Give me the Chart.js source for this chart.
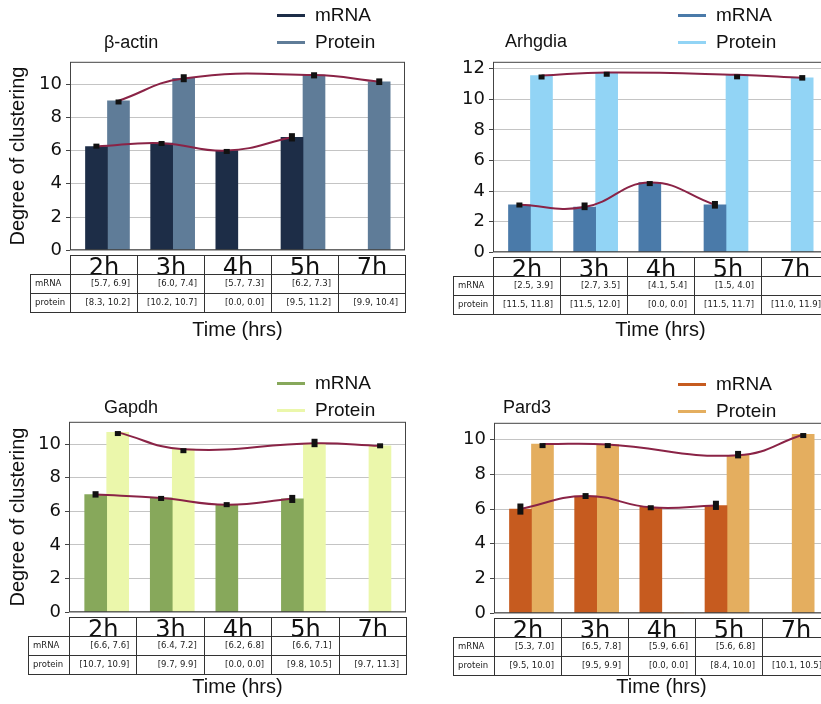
<!DOCTYPE html>
<html>
<head>
<meta charset="utf-8">
<script src="https://cdn.jsdelivr.net/npm/chart.js@4"></script>
<style>
  html, body { margin: 0; padding: 0; background: #fff; }
  body { width: 821px; height: 704px; position: relative; overflow: hidden; font-family: "Liberation Sans", Arial, sans-serif; color: #111; }
  .abs { position: absolute; }
  .title { font-size: 18px; white-space: nowrap; }
  .leg { font-size: 19px; white-space: nowrap; }
  .legline { position: absolute; height: 3px; width: 28px; }
  .xlabel { font-size: 20px; white-space: nowrap; transform: translateX(-50%); }
  .cell { position: absolute; box-sizing: border-box; border: 1px solid #333; overflow: hidden; font-family: "DejaVu Sans", sans-serif; }
  .head { font-size: 24px; line-height: 24px; text-align: center; }
  .body { font-size: 8.5px; line-height: 17px; text-align: right; padding-right: 7px; color: #222; }
  .rowlab { font-size: 8.5px; line-height: 17px; text-align: left; padding-left: 4px; color: #222; }
</style>
</head>
<body>
<script>
const categories = ['2h', '3h', '4h', '5h', '7h'];
const yTicks = [0, 2, 4, 6, 8, 10, 12];

// β-actin
const actinMrna = [6.25, 6.45, 6.0, 6.8, null];
const actinProtein = [9.0, 10.35, 0, 10.55, 10.15];
const actinMrnaErr = [[6.12, 6.42], [6.32, 6.58], [5.9, 6.1], [6.55, 7.05], null];
const actinProteinErr = [[8.88, 9.08], [10.12, 10.6], null, [10.35, 10.72], [9.95, 10.35]];
const actinMrnaCI = ['[5.7, 6.9]', '[6.0, 7.4]', '[5.7, 7.3]', '[6.2, 7.3]', ''];
const actinProteinCI = ['[8.3, 10.2]', '[10.2, 10.7]', '[0.0, 0.0]', '[9.5, 11.2]', '[9.9, 10.4]'];

// Arhgdia
const arhMrna = [3.1, 2.95, 4.55, 3.1, null];
const arhProtein = [11.55, 11.75, 0, 11.6, 11.4];
const arhMrnaErr = [[2.98, 3.25], [2.75, 3.25], [4.38, 4.65], [2.85, 3.35], null];
const arhProteinErr = [[11.48, 11.62], [11.68, 11.8], null, [11.57, 11.63], [11.22, 11.58]];
const arhMrnaCI = ['[2.5, 3.9]', '[2.7, 3.5]', '[4.1, 5.4]', '[1.5, 4.0]', ''];
const arhProteinCI = ['[11.5, 11.8]', '[11.5, 12.0]', '[0.0, 0.0]', '[11.5, 11.7]', '[11.0, 11.9]'];

// Gapdh
const gapMrna = [7.0, 6.8, 6.4, 6.75, null];
const gapProtein = [10.7, 9.7, 0, 10.05, 9.9];
const gapMrnaErr = [[6.82, 7.2], [6.62, 6.92], [6.25, 6.55], [6.5, 6.98], null];
const gapProteinErr = [[10.65, 10.78], [9.64, 9.76], null, [9.82, 10.32], [9.78, 10.05]];
const gapMrnaCI = ['[6.6, 7.6]', '[6.4, 7.2]', '[6.2, 6.8]', '[6.6, 7.1]', ''];
const gapProteinCI = ['[10.7, 10.9]', '[9.7, 9.9]', '[0.0, 0.0]', '[9.8, 10.5]', '[9.7, 11.3]'];

// Pard3
const pardMrna = [6.0, 6.75, 6.1, 6.2, null];
const pardProtein = [9.75, 9.72, 0, 9.1, 10.3];
const pardMrnaErr = [[5.68, 6.32], [6.58, 6.92], [5.95, 6.22], [5.95, 6.48], null];
const pardProteinErr = [[9.68, 9.8], [9.65, 9.8], null, [8.92, 9.35], [10.22, 10.38]];
const pardMrnaCI = ['[5.3, 7.0]', '[6.5, 7.8]', '[5.9, 6.6]', '[5.6, 6.8]', ''];
const pardProteinCI = ['[9.5, 10.0]', '[9.5, 9.9]', '[0.0, 0.0]', '[8.4, 10.0]', '[10.1, 10.5]'];

const curveColor = '#8a2346';
const barShift = 0.17;
const xMin = -0.575, xMax = 4.565;

const panels = [
  { name: 'β-actin', x0: 0, left: 70, top: 59, right: 405, bottom: 253, yMax: 11.35, ytitle: true,
    mrna: actinMrna, protein: actinProtein, mErr: actinMrnaErr, pErr: actinProteinErr,
    mCI: actinMrnaCI, pCI: actinProteinCI, mColor: '#1d2d47', pColor: '#5f7c98',
    titleX: 104, titleY: 32, legX: 277, legY: 4, labX: 30, xlabY: 318 },
  { name: 'Arhgdia', x0: 410, left: 493, top: 59, right: 828, bottom: 255, yMax: 12.45, ytitle: false,
    mrna: arhMrna, protein: arhProtein, mErr: arhMrnaErr, pErr: arhProteinErr,
    mCI: arhMrnaCI, pCI: arhProteinCI, mColor: '#4a7aa9', pColor: '#92d4f5',
    titleX: 505, titleY: 31, legX: 678, legY: 4, labX: 453, xlabY: 318 },
  { name: 'Gapdh', x0: 0, left: 69, top: 419, right: 406, bottom: 615, yMax: 11.33, ytitle: true,
    mrna: gapMrna, protein: gapProtein, mErr: gapMrnaErr, pErr: gapProteinErr,
    mCI: gapMrnaCI, pCI: gapProteinCI, mColor: '#87a85b', pColor: '#ebf7ab',
    titleX: 104, titleY: 397, legX: 277, legY: 372, labX: 28, xlabY: 675 },
  { name: 'Pard3', x0: 410, left: 494, top: 420, right: 829, bottom: 616, yMax: 10.97, ytitle: false,
    mrna: pardMrna, protein: pardProtein, mErr: pardMrnaErr, pErr: pardProteinErr,
    mCI: pardMrnaCI, pCI: pardProteinCI, mColor: '#c65b1f', pColor: '#e4ae5f',
    titleX: 503, titleY: 397, legX: 678, legY: 373, labX: 453, xlabY: 675 }
];

// box around the plot area + error bars on top
const boxAndErrors = {
  id: 'boxAndErrors',
  afterDatasetsDraw(chart) {
    const ctx = chart.ctx;
    const a = chart.chartArea;
    const xs = chart.scales.x, ys = chart.scales.y;
    ctx.save();
    chart.data.datasets.forEach(ds => {
      if (!ds.err) return;
      ds.data.forEach(p => {
        const e = ds.err[p.i];
        if (!e) return;
        const px = xs.getPixelForValue(p.x);
        const y1 = ys.getPixelForValue(e[1]), y0 = ys.getPixelForValue(e[0]);
        ctx.fillStyle = '#111';
        ctx.fillRect(px - 3, y1, 6, Math.max(y0 - y1, 5));
      });
    });
    ctx.strokeStyle = '#444';
    ctx.lineWidth = 1;
    ctx.strokeRect(a.left + 0.5, a.top + 0.5, a.width - 1, a.height - 1);
    ctx.restore();
  }
};

function linePoints(vals, shift) {
  const pts = [];
  vals.forEach((v, i) => { if (v) pts.push({ x: i + shift, y: v, i: i }); });
  return pts;
}

function barPoints(vals) {
  return vals.map((v, i) => ({ x: i, y: v }));
}

function addDiv(cls, css, text) {
  const d = document.createElement('div');
  d.className = cls;
  Object.assign(d.style, css);
  if (text !== undefined) d.textContent = text;
  document.body.appendChild(d);
  return d;
}

function buildPanel(p) {
  const pad = 12;
  const colW = (p.right - p.left) / categories.length;
  const unitPx = (p.right - p.left) / (xMax - xMin);
  const thick = Math.round(unitPx * 2 * barShift);
  const wrap = addDiv('abs', {
    left: p.x0 + 'px', top: (p.top - pad) + 'px',
    width: (p.right - p.x0 + 1) + 'px', height: (p.bottom - p.top + 2 * pad) + 'px'
  });
  const canvas = document.createElement('canvas');
  wrap.appendChild(canvas);

  new Chart(canvas, {
    type: 'bar',
    data: {
      datasets: [
        { type: 'line', data: linePoints(p.mrna, -barShift), err: p.mErr,
          borderColor: curveColor, borderWidth: 2, tension: 0.45, pointRadius: 0, order: 0 },
        { type: 'line', data: linePoints(p.protein, barShift), err: p.pErr,
          borderColor: curveColor, borderWidth: 2, tension: 0.45, pointRadius: 0, order: 0 },
        { label: 'mRNA', data: barPoints(p.mrna), backgroundColor: p.mColor, order: 1, barThickness: thick },
        { label: 'Protein', data: barPoints(p.protein), backgroundColor: p.pColor, order: 1, barThickness: thick }
      ]
    },
    options: {
      responsive: true,
      maintainAspectRatio: false,
      animation: false,
      layout: { padding: { top: pad, bottom: pad, right: 1, left: 0 } },
      plugins: { legend: { display: false }, tooltip: { enabled: false } },
      scales: {
        x: { type: 'linear', display: false, offset: false, min: xMin, max: xMax },
        y: {
          min: 0, max: p.yMax,
          afterBuildTicks: s => { s.ticks = yTicks.filter(v => v <= p.yMax).map(v => ({ value: v })); },
          afterFit: s => { s.width = p.left - p.x0; },
          ticks: { stepSize: 2, color: '#111', padding: 4, font: { family: 'DejaVu Sans', size: 18 } },
          grid: { color: '#c4c4c4', tickColor: '#444', tickLength: 4 },
          border: { display: false },
          title: { display: p.ytitle, text: 'Degree of clustering', color: '#111',
                   padding: { top: 6, bottom: 0 }, font: { family: 'Liberation Sans', size: 20 } }
        }
      }
    },
    plugins: [boxAndErrors]
  });

  // title and legend
  addDiv('abs title', { left: p.titleX + 'px', top: p.titleY + 'px' }, p.name);
  [[p.mColor, 'mRNA', 0], [p.pColor, 'Protein', 27]].forEach(([c, t, dy]) => {
    addDiv('legline', { left: p.legX + 'px', top: (p.legY + dy + 10) + 'px', background: c });
    addDiv('abs leg', { left: (p.legX + 38) + 'px', top: (p.legY + dy) + 'px' }, t);
  });

  // table under the axis
  const rowH = 20;
  const t0 = p.bottom + 2;
  categories.forEach((c, i) => {
    const x = p.left + i * colW;
    const h = addDiv('cell head', { left: x + 'px', top: t0 + 'px', width: (colW + 1) + 'px', height: rowH + 'px' });
    const s = document.createElement('div');
    s.style.marginTop = '-1px';
    s.textContent = c;
    h.appendChild(s);
    addDiv('cell body', { left: x + 'px', top: (t0 + rowH - 1) + 'px', width: (colW + 1) + 'px', height: rowH + 'px' }, p.mCI[i]);
    addDiv('cell body', { left: x + 'px', top: (t0 + 2 * rowH - 2) + 'px', width: (colW + 1) + 'px', height: rowH + 'px' }, p.pCI[i]);
  });
  addDiv('cell rowlab', { left: p.labX + 'px', top: (t0 + rowH - 1) + 'px', width: (p.left - p.labX + 1) + 'px', height: rowH + 'px' }, 'mRNA');
  addDiv('cell rowlab', { left: p.labX + 'px', top: (t0 + 2 * rowH - 2) + 'px', width: (p.left - p.labX + 1) + 'px', height: rowH + 'px' }, 'protein');

  addDiv('abs xlabel', { left: ((p.left + p.right) / 2) + 'px', top: p.xlabY + 'px' }, 'Time (hrs)');
}

panels.forEach(buildPanel);
</script>
</body>
</html>
